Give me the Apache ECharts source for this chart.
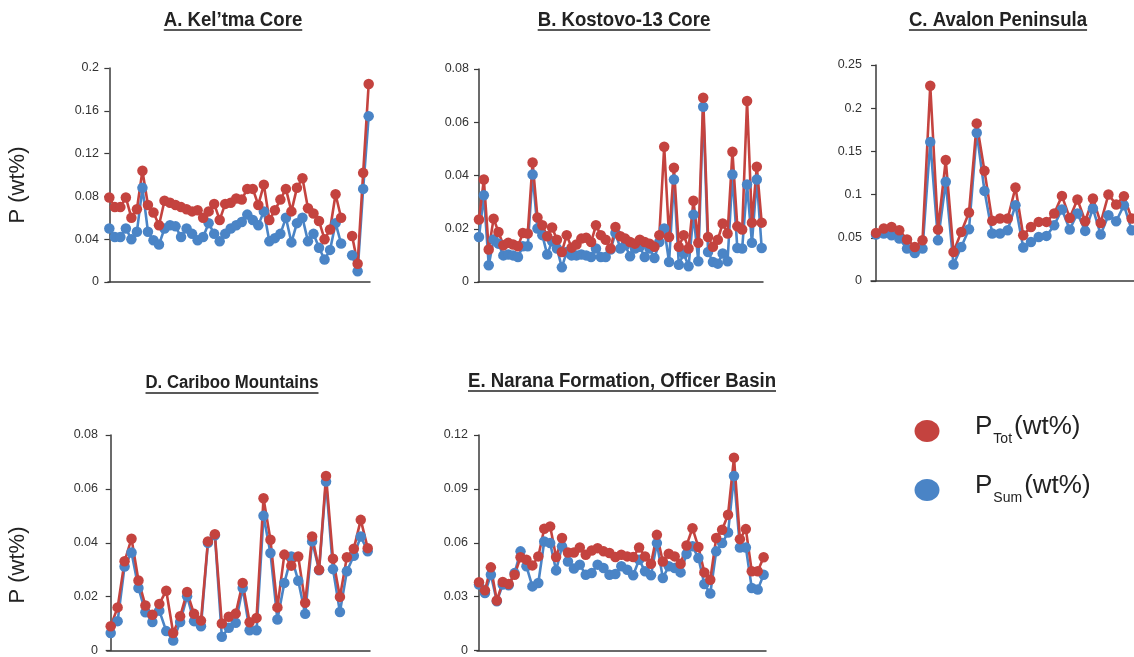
<!DOCTYPE html>
<html>
<head>
<meta charset="utf-8">
<script src="https://cdn.jsdelivr.net/npm/echarts@6/dist/echarts.min.js"></script>
<style>
  html, body { margin: 0; padding: 0; background: #ffffff; }
  #chart { width: 1134px; height: 657px; }
</style>
</head>
<body>
<div id="chart"></div>
<script>
// Phosphorus content down-section: total P (red) and summed P fractions (blue), wt%
const keltmaTot = [0.079,0.070,0.070,0.079,0.060,0.068,0.104,0.072,0.065,0.053,0.076,0.074,0.072,0.070,0.068,0.066,0.067,0.060,0.066,0.073,0.058,0.073,0.074,0.078,0.077,0.087,0.087,0.072,0.091,0.058,0.067,0.077,0.087,0.066,0.088,0.097,0.069,0.064,0.057,0.040,0.049,0.082,0.060,null,0.043,0.017,0.102,0.185];
const keltmaSum = [0.050,0.042,0.042,0.050,0.040,0.047,0.088,0.047,0.039,0.035,0.050,0.053,0.052,0.042,0.050,0.045,0.039,0.042,0.055,0.045,0.038,0.045,0.050,0.053,0.056,0.063,0.058,0.053,0.066,0.038,0.041,0.045,0.060,0.037,0.055,0.060,0.038,0.045,0.032,0.021,0.030,0.055,0.036,null,0.025,0.010,0.087,0.155];

const kostovoTot = [0.0235,0.0385,0.0122,0.0238,0.0188,0.0138,0.0147,0.0141,0.0134,0.0184,0.0182,0.0449,0.0242,0.0213,0.0172,0.0205,0.0159,0.0113,0.0176,0.0129,0.0141,0.0163,0.0166,0.0150,0.0213,0.0176,0.0159,0.0126,0.0207,0.0172,0.0163,0.0150,0.0144,0.0159,0.0150,0.0144,0.0132,0.0176,0.0508,0.0169,0.0429,0.0132,0.0176,0.0126,0.0305,0.0147,0.0692,0.0169,0.0132,0.0159,0.0220,0.0182,0.0489,0.0209,0.0197,0.0680,0.0223,0.0433,0.0223];
const kostovoSum = [0.0169,0.0326,0.0063,0.0160,0.0144,0.0100,0.0103,0.0100,0.0094,0.0134,0.0134,0.0404,0.0201,0.0176,0.0103,0.0153,0.0126,0.0055,0.0113,0.0100,0.0100,0.0103,0.0100,0.0094,0.0126,0.0094,0.0094,0.0122,0.0184,0.0126,0.0138,0.0097,0.0126,0.0132,0.0094,0.0126,0.0090,0.0150,0.0201,0.0075,0.0385,0.0065,0.0107,0.0059,0.0253,0.0078,0.0658,0.0113,0.0075,0.0069,0.0107,0.0078,0.0404,0.0128,0.0126,0.0366,0.0147,0.0385,0.0128];

const avalonTot = [0.0557,0.0607,0.0626,0.0588,0.0480,0.0394,0.0472,0.226,0.0596,0.140,0.0336,0.0568,0.0793,0.1824,0.1275,0.0696,0.0723,0.0723,0.1082,0.0530,0.0626,0.0684,0.0684,0.0781,0.0985,0.0730,0.0943,0.0692,0.0955,0.0672,0.1001,0.0885,0.0982,0.0723];
const avalonSum = [0.0538,0.0549,0.0530,0.0491,0.0375,0.0325,0.0375,0.161,0.0472,0.1148,0.019,0.0394,0.0599,0.1716,0.1043,0.0549,0.0549,0.0588,0.0877,0.0387,0.0452,0.0510,0.0522,0.0646,0.0828,0.0596,0.0781,0.0580,0.0839,0.0538,0.0762,0.0692,0.0877,0.0588];

const caribooTot = [0.0090,0.0160,0.0331,0.0415,0.0260,0.0167,0.0133,0.0173,0.0222,0.0065,0.0127,0.0217,0.0136,0.0111,0.0405,0.0432,0.0100,0.0125,0.0137,0.0251,0.0105,0.0121,0.0565,0.0411,0.0160,0.0356,0.0315,0.0349,0.0177,0.0423,0.0300,0.0648,0.0341,0.0199,0.0346,0.0378,0.0485,0.0380];
const caribooSum = [0.0065,0.0109,0.0312,0.0364,0.0232,0.0142,0.0106,0.0148,0.0072,0.0037,0.0106,0.0201,0.0109,0.0090,0.0400,0.0428,0.0051,0.0084,0.0103,0.0232,0.0075,0.0075,0.0500,0.0362,0.0115,0.0251,0.0349,0.0259,0.0136,0.0405,0.0298,0.0627,0.0302,0.0143,0.0294,0.0352,0.0423,0.0368];

const naranaTot = [0.0380,0.0335,0.0463,0.0278,0.0381,0.0370,0.0422,0.0519,0.0506,0.0474,0.0524,0.0678,0.0691,0.0520,0.0626,0.0546,0.0546,0.0574,0.0533,0.0557,0.0570,0.0552,0.0543,0.0520,0.0533,0.0524,0.0520,0.0574,0.0524,0.0483,0.0644,0.0496,0.0539,0.0524,0.0483,0.0585,0.0681,0.0576,0.0435,0.0394,0.0626,0.0672,0.0756,0.1074,0.0620,0.0676,0.0441,0.0441,0.0519];
const naranaSum = [0.0367,0.0320,0.0422,0.0274,0.0367,0.0363,0.0431,0.0552,0.0469,0.0357,0.0376,0.0607,0.0598,0.0446,0.0580,0.0496,0.0456,0.0478,0.0422,0.0431,0.0478,0.0459,0.0422,0.0426,0.0469,0.0450,0.0419,0.0506,0.0441,0.0419,0.0598,0.0404,0.0469,0.0459,0.0435,0.0537,0.0580,0.0515,0.0370,0.0317,0.0552,0.0598,0.0657,0.0972,0.0574,0.0574,0.0348,0.0339,0.0422];

// Panel titles and y-axis scales
const panelTitles = ['A. Kel\u2019tma Core', 'B. Kostovo-13 Core', 'C. Avalon Peninsula', 'D. Cariboo Mountains', 'E. Narana Formation, Officer Basin'];
const yMaxes = [0.2, 0.08, 0.25, 0.08, 0.12];
const yIntervals = [0.04, 0.02, 0.05, 0.02, 0.03];
const axisTitle = 'P (wt%)';
const legendNames = [['P', 'Tot', '(wt%)'], ['P', 'Sum', '(wt%)']];

const RED = '#C4433F';
const BLUE = '#4A84C6';
const AXIS = '#3a3a3a';
const TICK_FONT = '"Liberation Sans", Arial, sans-serif';

// Layout of the five plot areas (pixels), the x-range around the sample indices, heading placement
const layouts = [
  { left: 108, top: 68, width: 262, height: 214, xMin: -0.24, xPad: 0.24, titleX: 233, titleY: 20, titleSize: 20 },
  { left: 478, top: 69, width: 285, height: 213, xMin: -0.2,  xPad: 0.27, titleX: 624, titleY: 20, titleSize: 20 },
  { left: 871, top: 65, width: 265, height: 216, xMin: -0.65, xPad: 0.3,  titleX: 998, titleY: 20, titleSize: 20 },
  { left: 107, top: 435, width: 263, height: 216, xMin: -0.53, xPad: 0.33, titleX: 232, titleY: 383, titleSize: 18 },
  { left: 477, top: 435, width: 289, height: 216, xMin: -0.34, xPad: 0.4,  titleX: 622, titleY: 381, titleSize: 20 }
];

const panels = [
  [keltmaTot, keltmaSum], [kostovoTot, kostovoSum], [avalonTot, avalonSum],
  [caribooTot, caribooSum], [naranaTot, naranaSum]
];

const toPairs = arr => arr.map((v, i) => [i, v == null ? '-' : v]);
const fmt = v => (v === 0 ? '0' : String(+v.toFixed(3)));

const grids = [], xAxes = [], yAxes = [], series = [], graphics = [];

const measureCtx = document.createElement('canvas').getContext('2d');

// condensed bold heading: bold glyphs squeezed horizontally
const TITLE_SQUEEZE = 0.93;

panels.forEach((pair, k) => {
  const L = layouts[k];
  const n = pair[0].length;
  grids.push({ left: L.left, top: L.top, width: L.width, height: L.height, containLabel: false });
  xAxes.push({
    type: 'value', gridIndex: k, min: L.xMin, max: n - 1 + L.xPad,
    axisLine: { show: true, onZero: false, lineStyle: { color: AXIS, width: 1.5 } },
    axisTick: { show: false }, axisLabel: { show: false }, splitLine: { show: false }
  });
  yAxes.push({
    type: 'value', gridIndex: k, min: 0, max: yMaxes[k], interval: yIntervals[k],
    axisLine: { show: true, lineStyle: { color: AXIS, width: 1.5 } },
    axisTick: { show: true, inside: false, length: 5, lineStyle: { color: AXIS, width: 1.2 } },
    axisLabel: { color: '#333', fontSize: 12.5, fontFamily: TICK_FONT, margin: 9, formatter: fmt },
    splitLine: { show: false }
  });
  // summed fractions first so the total-P line sits on top
  [[pair[1], BLUE, 'P Sum'], [pair[0], RED, 'P Tot']].forEach(([arr, col, nm]) => {
    series.push({
      type: 'line', name: nm, xAxisIndex: k, yAxisIndex: k,
      data: toPairs(arr), connectNulls: false,
      symbol: 'circle', symbolSize: 10.5, showAllSymbol: true,
      lineStyle: { color: col, width: 2.6 },
      itemStyle: { color: col },
      animation: false, silent: true
    });
  });

  // underlined panel title
  const tFont = 'bold ' + L.titleSize + 'px ' + TICK_FONT;
  measureCtx.font = tFont;
  const w = measureCtx.measureText(panelTitles[k]).width * TITLE_SQUEEZE;
  graphics.push({
    type: 'text', x: L.titleX, y: L.titleY, scaleX: TITLE_SQUEEZE, originX: 0, originY: 0,
    style: { text: panelTitles[k], font: tFont, fill: '#222', textAlign: 'center', textVerticalAlign: 'middle' }
  });
  graphics.push({
    type: 'line', shape: { x1: L.titleX - w / 2, y1: L.titleY + 10, x2: L.titleX + w / 2, y2: L.titleY + 10 },
    style: { stroke: '#222', lineWidth: 1.4 }
  });
});

// rotated y-axis titles for each row
[[18, 185], [18, 565]].forEach(([x, y]) => {
  graphics.push({
    type: 'text', x: x, y: y, rotation: Math.PI / 2,
    style: { text: axisTitle, font: '22px ' + TICK_FONT, fill: '#222', textAlign: 'center', textVerticalAlign: 'middle' }
  });
});

// legend: coloured discs with subscripted labels
[[RED, 431], [BLUE, 490]].forEach(([col, cy], j) => {
  graphics.push({ type: 'ellipse', shape: { cx: 927, cy: cy, rx: 12.5, ry: 11 }, style: { fill: col } });
  const [p, sub, unit] = legendNames[j];
  const bigFont = '26px ' + TICK_FONT;
  const subFont = '14px ' + TICK_FONT;
  measureCtx.font = bigFont;
  const wp = measureCtx.measureText(p).width;
  measureCtx.font = subFont;
  const ws = measureCtx.measureText(sub).width;
  const x0 = 975;
  graphics.push({ type: 'text', x: x0, y: cy - 4, style: { text: p, font: bigFont, fill: '#222', textVerticalAlign: 'middle' } });
  graphics.push({ type: 'text', x: x0 + wp + 1, y: cy + 8, style: { text: sub, font: subFont, fill: '#222', textVerticalAlign: 'middle' } });
  graphics.push({ type: 'text', x: x0 + wp + ws + 3, y: cy - 4, style: { text: unit, font: bigFont, fill: '#222', textVerticalAlign: 'middle' } });
});

const chart = echarts.init(document.getElementById('chart'), null, { renderer: 'canvas' });
chart.setOption({
  backgroundColor: '#ffffff',
  animation: false,
  grid: grids,
  xAxis: xAxes,
  yAxis: yAxes,
  series: series,
  graphic: graphics
});
</script>
</body>
</html>
